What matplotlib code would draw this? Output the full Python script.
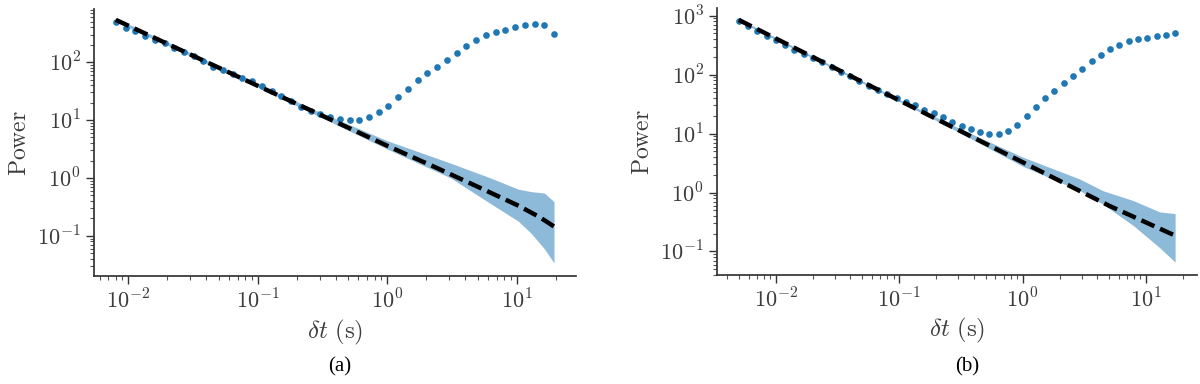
import matplotlib
matplotlib.use("Agg")
import matplotlib.pyplot as plt
from matplotlib.ticker import FuncFormatter
import math

plt.rcParams["mathtext.fontset"] = "cm"
plt.rcParams["font.family"] = ["DejaVu Serif"]

# panel (a)
dt_a = [0.008, 0.00951, 0.01131, 0.01345, 0.016, 0.01903, 0.02263, 0.02691,
        0.032, 0.03806, 0.04525, 0.05382, 0.064, 0.07611, 0.09051, 0.10764,
        0.128, 0.15222, 0.18102, 0.21527, 0.256, 0.30444, 0.36204, 0.43054,
        0.512, 0.60887, 0.72408, 0.86108, 1.024, 1.21775, 1.44815, 1.72216,
        2.048, 2.4355, 2.8963, 3.4443, 4.096, 4.871, 5.7926, 6.8886,
        8.192, 9.742, 11.585, 13.777, 16.384, 19.484]
power_a = [490, 390, 340, 288, 245, 212, 178, 152,
           128, 105, 84, 73, 62, 54, 47, 39,
           32, 26, 21, 17, 14.3, 12.8, 11.4, 10.5,
           10.2, 10.2, 11.1, 13.5, 17.8, 25, 35, 49,
           65, 83, 108, 145, 190, 242, 294, 333,
           366, 406, 430, 452, 435, 307]
fit_x_a = [0.008, 0.1, 1.0, 2.4, 5.5, 10.4, 15.1, 19.484]
fit_y_a = [537, 39, 3.6, 1.5, 0.64, 0.33, 0.21, 0.145]
band_x_a = [0.008, 0.1, 0.3, 1.0, 3.1, 6.3, 10.3, 13.0, 16.384, 19.484]
band_lo_a = [500, 37, 11.5, 3.16, 1.0, 0.36, 0.18, 0.11, 0.06, 0.034]
band_hi_a = [575, 42, 13.8, 4.4, 1.8, 1.0, 0.64, 0.58, 0.55, 0.39]

# panel (b)
dt_b = [0.005, 0.005946, 0.007071, 0.008409, 0.01, 0.011892, 0.014142, 0.016818,
        0.02, 0.023784, 0.028284, 0.033636, 0.04, 0.047568, 0.056569, 0.067272,
        0.08, 0.095137, 0.113137, 0.134543, 0.16, 0.190273, 0.226274, 0.269087,
        0.32, 0.380546, 0.452548, 0.538174, 0.64, 0.761093, 0.905097, 1.076347,
        1.28, 1.522185, 1.810193, 2.152695, 2.56, 3.04437, 3.620387, 4.30539,
        5.12, 6.08874, 7.240773, 8.61078, 10.24, 12.17748, 14.481547, 17.22156]
power_b = [800, 660, 542, 457, 388, 318, 265, 222,
           190, 162, 136, 112, 94, 79, 65, 55,
           47, 40, 34, 30.6, 25.5, 22.4, 18.9, 16,
           13.7, 12, 10.5, 10, 10, 11.1, 14.2, 20,
           27.9, 39.6, 53.5, 71, 94, 125, 170, 218,
           275, 323, 367, 398, 425, 447, 471, 509]
fit_x_b = [0.005, 0.1, 1.0, 5.0, 17.22156]
fit_y_b = [850, 36.6, 3.27, 0.6, 0.186]
band_x_b = [0.005, 0.1, 0.3, 1.0, 2.9, 4.5, 7.9, 12.9, 17.22156]
band_lo_b = [810, 35, 10.7, 2.8, 1.08, 0.63, 0.275, 0.116, 0.066]
band_hi_b = [890, 38, 12.6, 4.0, 1.7, 1.07, 0.73, 0.47, 0.44]


def pow10(v, pos):
    return r"$10^{%d}$" % round(math.log10(v))


fig = plt.figure(figsize=(12, 3.84), dpi=100)
ax_a = fig.add_axes([0.0783, 0.281, 0.4017, 0.695])
ax_b = fig.add_axes([0.5975, 0.284, 0.4, 0.694])

panels = [
    (ax_a, dt_a, power_a, fit_x_a, fit_y_a, band_x_a, band_lo_a, band_hi_a,
     (0.00542, 28.8), (0.0202, 820), "(a)", 0.283),
    (ax_b, dt_b, power_b, fit_x_b, fit_y_b, band_x_b, band_lo_b, band_hi_b,
     (0.00333, 25.9), (0.040, 1330), "(b)", 0.806),
]

grey = "#3c3c3c"
for ax, x, y, fx, fy, bx, blo, bhi, xl, yl, cap, capx in panels:
    ax.fill_between(bx, blo, bhi, color="#1f77b4", alpha=0.5, lw=0)
    ax.plot(x, y, "o", color="#1f77b4", ms=4.8, mew=0)
    ax.plot(fx, fy, color="black", lw=3.2, ls=(0, (3.2, 1.4)))
    ax.set_xscale("log")
    ax.set_yscale("log")
    ax.set_xlim(*xl)
    ax.set_ylim(*yl)
    ax.xaxis.set_major_formatter(FuncFormatter(pow10))
    ax.yaxis.set_major_formatter(FuncFormatter(pow10))
    for s in ["top", "right"]:
        ax.spines[s].set_visible(False)
    for s in ["left", "bottom"]:
        ax.spines[s].set_color("#333333")
        ax.spines[s].set_linewidth(1.25)
    ax.tick_params(which="major", length=6, width=1, colors="#333333",
                   labelcolor=grey, labelsize=16)
    ax.tick_params(which="minor", length=3, width=0.8, colors="#555555")
    ax.set_ylabel(r"$\mathrm{Power}$", fontsize=17, color=grey)
    ax.set_xlabel(r"$\delta t\ (\mathrm{s})$", fontsize=18, color=grey, labelpad=3)
    fig.text(capx, 0.045, cap, ha="center", va="center", fontsize=15,
             family="Liberation Serif")

fig.savefig("out.png", dpi=100)
